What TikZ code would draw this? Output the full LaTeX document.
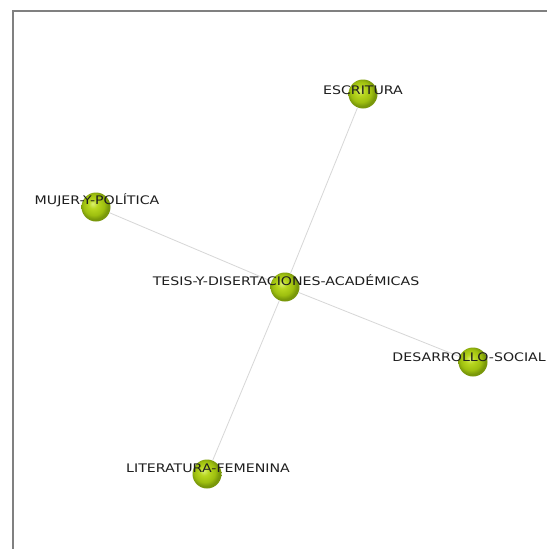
\documentclass[tikz,border=0pt]{standalone}
\usepackage{fontspec}
\setmainfont{DejaVu Sans}
\newfontfamily\labfont[FakeStretch=1.2]{DejaVu Sans}
\definecolor{edgec}{RGB}{215,215,215}
\definecolor{framec}{RGB}{128,128,128}
\definecolor{labc}{RGB}{30,30,30}
\pgfdeclareradialshading{greenball}{\pgfpoint{-6bp}{6bp}}{%
  rgb(0bp)=(0.86,0.94,0.45);
  rgb(8bp)=(0.72,0.84,0.12);
  rgb(18bp)=(0.62,0.75,0.06);
  rgb(24bp)=(0.48,0.60,0.04);
  rgb(50bp)=(0.40,0.50,0.03)}
\begin{document}
\begin{tikzpicture}[x=1pt,y=-1pt,
  ball/.style={circle,minimum size=29pt,inner sep=0pt,shading=greenball},
  lab/.style={text=labc,font=\labfont\fontsize{11.8}{13}\selectfont,inner sep=0pt},
  edge/.style={draw=edgec,line width=0.8pt}]
\useasboundingbox (0,0) rectangle (547,549);
\fill[white] (0,0) rectangle (547,549);
\draw[framec,line width=2pt] (13,549) -- (13,11) -- (547,11);
\node[ball] (t) at (285,287) {};
\node[ball] (e) at (363,94) {};
\node[ball] (m) at (96,207) {};
\node[ball] (d) at (473,362) {};
\node[ball] (l) at (207,474) {};
\draw[edge] (t) -- (e);
\draw[edge] (t) -- (m);
\draw[edge] (t) -- (d);
\draw[edge] (t) -- (l);
\node[lab] (te) at (286,280) {TESIS-Y-DISERTACIONES-ACADÉMICAS};
\node[lab] (ee) at (363,90) {ESCRITURA};
\node[lab] (me) at (97,200) {MUJER-Y-POLÍTICA};
\node[lab,anchor=east] (de) at (546,357) {DESARROLLO-SOCIAL};
\node[lab] (le) at (208,468) {LITERATURA-FEMENINA};
\end{tikzpicture}
\end{document}
